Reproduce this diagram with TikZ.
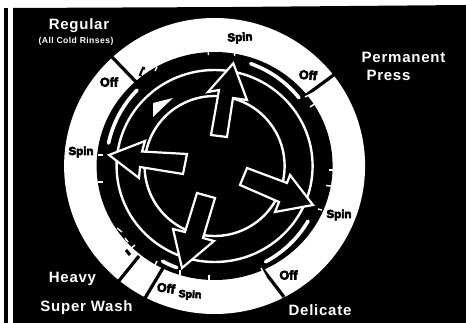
\documentclass[tikz,border=0pt]{standalone}
\usepackage{fontspec}
\setmainfont{Liberation Sans}
\newfontfamily\labfont[LetterSpace=5]{Liberation Sans Bold}
\newfontfamily\dialfont[FakeBold=5]{Liberation Sans Bold}
\newcommand{\dialarc}[2]{\draw[segarc] ([shift={(c)}]#1:108.5) arc[start angle=#1,end angle=#2,radius=108.5];}
\tikzset{
  x=1pt,y=-1pt,
  divider/.style={black,line width=3.2pt},
  segarc/.style={white,line width=3.6pt,line cap=round},
  ringline/.style={white,line width=2.4pt},
  wtick/.style={white,line width=1.4pt},
  btick/.style={black,line width=3pt},
  dialarrow/.style={draw=white,fill=black,line width=2.2pt,line join=miter,miter limit=6},
  lab/.style={white,inner sep=0pt,font=\labfont\fontsize{15}{15}\selectfont},
  spinlab/.style={black,inner sep=0pt,font=\dialfont\fontsize{11.5}{11.5}\selectfont},
  offlab/.style={black,inner sep=0pt,font=\dialfont\fontsize{12.5}{12.5}\selectfont},
}
\begin{document}
\begin{tikzpicture}
\useasboundingbox (0,0) rectangle (466,323);
\fill[white] (0,0) rectangle (466,323);
\fill[black] (13,8) -- (233,7) -- (466,5) -- (466,323) -- (13,323) -- cycle;
\fill[black] (4,8) rectangle (8,323);
\coordinate (c) at (214.6,166);
% dial band
\fill[white] (c) ellipse[x radius=150.5,y radius=148];
\fill[black] (c) ellipse[x radius=118,y radius=114];
% dividers
\draw[divider] (111,56) -- (139,85);
\draw[divider] (335,74) -- (301,99);
\draw[divider] (284,297) -- (261,267);
\draw[divider] (118,282) -- (139,256);
\draw[divider] (145,298) -- (163,268);
% band notches
\draw[btick] (144,67) -- (140,76);
\draw[btick] (126,250) -- (130,255);
% ticks
\draw[wtick] (208,50) -- (208.5,55);
\draw[wtick] (235,50) -- (234.5,56);
\draw[wtick] (98,155) -- (103,155);
\draw[wtick] (98,182) -- (103,182);
\draw[wtick] (326,185.5) -- (331,186);
\draw[wtick] (329,170) -- (333,170);
\draw[wtick] (318,209) -- (322,210);
\draw[wtick] (117,228) -- (122,232);
\draw[wtick] (125,238) -- (128,242);
\draw[wtick] (130,249) -- (135,245);
\draw[wtick] (180,270) -- (180,277);
\draw[wtick] (209,275) -- (209,280);
\draw[wtick] (305,97) -- (313,93);
\draw[wtick] (310,107) -- (316,103);
\draw[wtick] (261,268) -- (266,277);
\draw[wtick] (144,70) -- (142,75);
\draw[wtick] (157,67) -- (155,71);
\draw[wtick] (155,265) -- (157,261);
% floating arcs
\dialarc{-135.6}{-167.8}
\dialarc{-70.6}{-38.9}
\dialarc{30.5}{62}
\dialarc{118.7}{110.4}
% rings
\draw[ringline] (c) ellipse[x radius=98,y radius=96];
\draw[ringline] (c) circle[radius=70];
% small triangle
\fill[white] (153,103) -- (173,98) -- (153,117) -- cycle;
% arrows
\draw[dialarrow] (233.3,63.3) -- (247,100) -- (233,98) -- (227,137) -- (211,135) -- (219,90) -- (208,92) -- cycle;
\draw[dialarrow] (109,155) -- (145,141) -- (142,151.5) -- (187,154) -- (183,174) -- (140,167) -- (139,178) -- cycle;
\draw[dialarrow] (182,268) -- (173,229) -- (185,232) -- (197,193) -- (215,198) -- (203,238) -- (214,241) -- cycle;
\draw[dialarrow] (313,205) -- (290,175) -- (287,183) -- (247,168) -- (240,185) -- (279,202) -- (275,212) -- cycle;
% dial labels
\node[spinlab,rotate=3] (s1) at (240,38) {Spin};
\node[offlab,rotate=-5] (o1) at (308,75) {Off};
\node[offlab] (o2) at (109,82) {Off};
\node[spinlab] (s2) at (81,152) {Spin};
\node[spinlab] (s3) at (339,215) {Spin};
\node[offlab] (o3) at (288.5,275) {Off};
\node[offlab,rotate=-8] (o4) at (166,288) {Off};
\node[spinlab,rotate=-3,font=\dialfont\fontsize{10.5}{10.5}\selectfont] (s4) at (190,295) {Spin};
% outer labels
\node[lab] (regular) at (79,26) {Regular};
\node[lab,font=\labfont\fontsize{8.6}{9}\selectfont] (rinses) at (76,41) {(All Cold Rinses)};
\node[lab] (perm) at (403.5,57) {Permanent};
\node[lab] (press) at (388.5,75) {Press};
\node[lab] (heavy) at (72.5,279) {Heavy};
\node[lab] (super) at (86.5,308) {Super Wash};
\node[lab] (delicate) at (320,310) {Delicate};
\end{tikzpicture}
\end{document}
